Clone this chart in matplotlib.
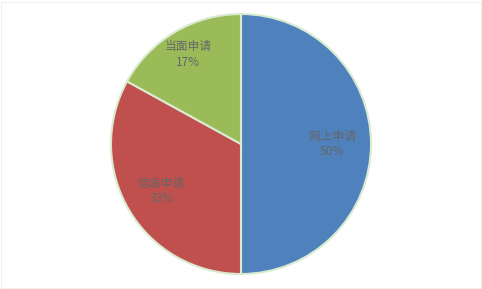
import matplotlib
matplotlib.use("Agg")
import matplotlib.pyplot as plt
import numpy as np

plt.rcParams['font.family'] = ['Noto Sans CJK SC', 'DejaVu Sans']

categories = ['网上申请', '信函申请', '当面申请']
values = [50, 33, 17]
colors = ['#4F81BD', '#C0504D', '#9BBB59']
label_radius = [0.70, 0.71, 0.80]

fig = plt.figure(figsize=(4.82, 2.89), dpi=100)
ax = fig.add_axes([0, 0, 1, 1])
ax.set_xlim(0, 482)
ax.set_ylim(0, 289)
ax.axis('off')

cx, cy, R = 241, 145, 130
wedges, _ = ax.pie(values, colors=colors, startangle=90, counterclock=False,
                   center=(cx, cy), radius=R, frame=True,
                   wedgeprops=dict(edgecolor='#D8EBD0', linewidth=1.5))
ax.set_xlim(0, 482)
ax.set_ylim(0, 289)
ax.set_aspect('equal')
ax.axis('off')

total = sum(values)
for w, cat, v, lr in zip(wedges, categories, values, label_radius):
    ang = np.deg2rad((w.theta1 + w.theta2) / 2)
    x = cx + lr * R * np.cos(ang)
    y = cy + lr * R * np.sin(ang)
    ax.text(x, y, f"{cat}\n{round(v / total * 100)}%", ha='center', va='center',
            fontsize=8.5, color='#666666', linespacing=1.25)

# faint outer border
border = plt.Rectangle((0.002, 0.004), 0.996, 0.99, transform=fig.transFigure,
                       fill=False, edgecolor='#F0F0F0', linewidth=0.8)
fig.patches.append(border)

fig.savefig('out.png', dpi=100, facecolor='white')
